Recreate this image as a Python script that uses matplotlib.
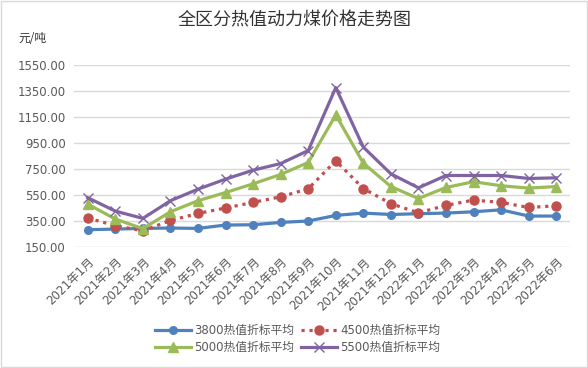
import matplotlib
matplotlib.use("Agg")
import matplotlib.pyplot as plt

plt.rcParams['font.family'] = ['DejaVu Sans', 'Noto Sans CJK SC']

months = ["2021年1月", "2021年2月", "2021年3月", "2021年4月", "2021年5月", "2021年6月",
          "2021年7月", "2021年8月", "2021年9月", "2021年10月", "2021年11月", "2021年12月",
          "2022年1月", "2022年2月", "2022年3月", "2022年4月", "2022年5月", "2022年6月"]
s3800 = [283, 288, 293, 296, 293, 319, 321, 339, 350, 393, 411, 400, 406, 411, 421, 436, 388, 388]
s4500 = [373, 314, 275, 354, 408, 450, 493, 536, 598, 813, 600, 483, 413, 470, 511, 493, 454, 467]
s5000 = [480, 365, 291, 421, 506, 569, 636, 708, 800, 1166, 795, 615, 523, 608, 652, 621, 603, 615]
s5500 = [529, 426, 370, 506, 595, 672, 741, 792, 892, 1376, 918, 713, 605, 700, 700, 700, 677, 682]
yticks = [150, 350, 550, 750, 950, 1150, 1350, 1550]

fig = plt.figure(figsize=(5.88, 3.68), dpi=100)
ax = fig.add_axes([74/588, 1-247/368, 496/588, 182/368])
x = list(range(len(months)))

h1, = ax.plot(x, s3800, color='#4F81BD', lw=2.3, marker='o', ms=5.5, label='3800热值折标平均', zorder=3)
h2, = ax.plot(x, s4500, color='#C0504D', lw=2.3, ls=(0, (1, 1.5)), marker='o', ms=6.5, label='4500热值折标平均', zorder=3)
h3, = ax.plot(x, s5000, color='#9BBB59', lw=2.3, marker='^', ms=7.5, label='5000热值折标平均', zorder=3)
h4, = ax.plot(x, s5500, color='#8064A2', lw=2.3, marker='x', ms=7.5, mew=1.0, label='5500热值折标平均', zorder=3)

ax.set_xlim(-0.5, 17.5)
ax.set_ylim(150, 1550)
ax.set_yticks(yticks)
ax.set_yticklabels([f"{v:.2f}" for v in yticks], fontsize=8.5, color='#595959')
ax.set_xticks(x)
ax.set_xticklabels(months, rotation=45, ha='right', rotation_mode='anchor', fontsize=8.5, color='#595959')
ax.tick_params(length=0, pad=6)
ax.grid(axis='y', color='#D9D9D9', lw=1)
ax.set_axisbelow(True)
for s in ax.spines.values():
    s.set_visible(False)

fig.text(295/588, 1-20/368, '全区分热值动力煤价格走势图', ha='center', va='center', fontsize=13,
         family=['Noto Sans CJK SC'], color='#333333')
fig.text(18/588, 1-38/368, '元/吨', ha='left', va='center', fontsize=8.5,
         family=['Noto Sans CJK SC'], color='#333333')

fig.legend([h1, h3, h2, h4], [h1.get_label(), h3.get_label(), h2.get_label(), h4.get_label()],
           loc='center', bbox_to_anchor=(298/588, 1-339/368), ncol=2, frameon=False,
           fontsize=8.5, labelcolor='#595959', handlelength=3, columnspacing=0.6,
           handletextpad=0.3, labelspacing=0.35)

border = plt.Rectangle((0.002, 0.003), 0.996, 0.994, transform=fig.transFigure, fill=False,
                       edgecolor='#D9D9D9', lw=1)
fig.add_artist(border)

fig.savefig('out.png', dpi=100)
